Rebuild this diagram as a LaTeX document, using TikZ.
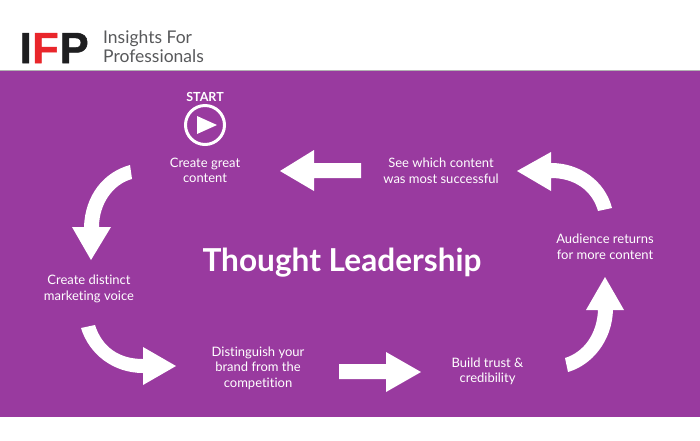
\documentclass[tikz,border=0pt]{standalone}
\usepackage{fontspec}
\setmainfont{Lato}[Ligatures=NoCommon]
\newfontfamily\logofont[FakeBold=1.2]{Liberation Sans Bold}
\begin{document}
\begin{tikzpicture}[x=1pt,y=-1pt,
  label/.style={text=white,align=center,font=\fontsize{13}{15.5}\selectfont,inner sep=0pt},
  blockarrow/.style={fill=white,draw=none},
  logoletter/.style={font=\logofont\fontsize{43.5}{44}\selectfont,inner sep=0pt,anchor=base west}]
\definecolor{band}{HTML}{993A9F}
\definecolor{logored}{HTML}{E9262B}
\definecolor{logoblack}{HTML}{1E1E20}
\definecolor{logogrey}{HTML}{58595B}
\useasboundingbox (0,0) rectangle (700,440);
\fill[white] (0,0) rectangle (700,440);
\fill[band] (0,71) rectangle (700,417);
\draw[black!30,line width=0.6pt] (0,70.7) -- (700,70.7);
% logo
\node[logoletter,text=logoblack] (logoI) at (19.5,63) {I};
\node[logoletter,text=logored] (logoF) at (32,63) {F};
\node[logoletter,text=logoblack] (logoP) at (59.5,63) {P};
\node[inner sep=0pt,anchor=west,align=left,text=logogrey,font=\fontsize{17.5}{19}\selectfont] (tagline) at (103,47) {Insights For\\Professionals};
% start icon
\node[text=white,inner sep=0pt,font=\bfseries\fontsize{12.5}{13}\selectfont] (start) at (205,97) {START};
\node[circle,draw=white,line width=3pt,minimum size=39pt,inner sep=0pt] (play) at (205,125) {};
\fill[white] (197,116) -- (217,125) -- (197,134) -- cycle;
% labels
\node[label] (great) at (205,170.5) {Create great\\content};
\node[label] (voice) at (89,289) {Create distinct\\marketing voice};
\node[label] (brand) at (258,368) {Distinguish your\\brand from the\\competition};
\node[label] (trust) at (487.5,371.5) {Build trust \&\\credibility};
\node[label] (returns) at (605,247) {Audience returns\\for more content};
\node[label] (see) at (441,171) {See which content\\was most successful};
\node[text=white,inner sep=0pt,font=\bfseries\fontsize{31.6}{36}\selectfont] (title) at (342,262.5) {Thought Leadership};
% arrows
\fill[blockarrow] (130,165) .. controls (104,172) and (85,195) .. (84,227) -- (72,227) -- (91,260) -- (111,227) -- (99,227) .. controls (99,204) and (113,184) .. (132,179) -- cycle;
\fill[blockarrow] (81,328) .. controls (89,354) and (113,373) .. (143,373) -- (143,385) -- (176,366) -- (143,347) -- (143,359) .. controls (119,359) and (102,347) .. (95,325) -- cycle;
\fill[blockarrow] (339,364) -- (386,364) -- (386,352) -- (421,372) -- (386,392) -- (386,379) -- (339,379) -- cycle;
\fill[blockarrow] (565,358) .. controls (584,352) and (597,334) .. (598,310) -- (586,310) -- (605,277) -- (624,310) -- (613,310) .. controls (612,341) and (592,365) .. (568,372) -- cycle;
\fill[blockarrow] (612,208) .. controls (605,181) and (580,163) .. (551,163) -- (551,152) -- (517,171) -- (551,191) -- (551,178) .. controls (574,178) and (592,190) .. (598,211) -- cycle;
\fill[blockarrow] (361,163) -- (314,163) -- (314,150) -- (280,171) -- (314,191) -- (314,178) -- (361,178) -- cycle;
\end{tikzpicture}
\end{document}
